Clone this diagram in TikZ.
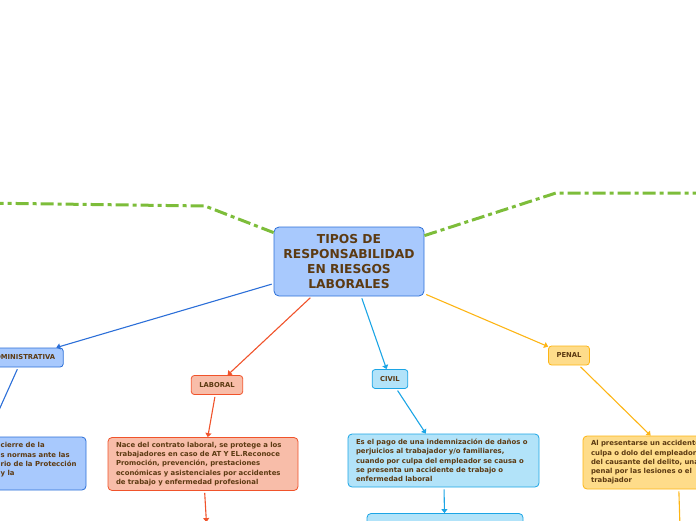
\documentclass[tikz,border=0pt]{standalone}
\usepackage{fontspec}
\setmainfont{DejaVu Sans}
\usepackage{tikz}
\usetikzlibrary{arrows.meta, positioning}

\definecolor{txtbrown}{HTML}{5C3A12}
\definecolor{bluefill}{HTML}{A8C9FD}
\definecolor{blueline}{HTML}{2C6FD8}
\definecolor{salmonfill}{HTML}{F8BDA9}
\definecolor{redline}{HTML}{F0532B}
\definecolor{cyanfill}{HTML}{B2E3F9}
\definecolor{cyanline}{HTML}{1CA5E5}
\definecolor{yellowfill}{HTML}{FEDC8A}
\definecolor{yellowline}{HTML}{FDB515}
\definecolor{greenline}{HTML}{7DBD3A}

\begin{document}
\begin{tikzpicture}[
    x=1pt, y=-1pt,
    every node/.style={text=txtbrown},
    topic/.style={draw, rounded corners=3pt, line width=0.8pt, minimum height=19pt, inner xsep=8pt, inner ysep=0pt, font=\bfseries\fontsize{6.8}{8}\selectfont},
    note/.style={draw, rounded corners=4pt, line width=0.8pt, minimum height=53pt, text width=174pt, inner xsep=8pt, align=left, font=\bfseries\fontsize{6.9}{9.3}\selectfont},
    link/.style={-{Triangle[length=4pt, width=6pt]}, line width=1.1pt, shorten <=2pt},
    branch/.style={greenline, line width=3pt, dash pattern=on 13pt off 4pt on 4pt off 4pt}
]
    \clip (0,0) rectangle (696,520);

    % Central topic
    \node[draw=blueline, fill=bluefill, rounded corners=5pt, line width=0.8pt, minimum width=150pt, minimum height=69pt,
          align=center, font=\bfseries\fontsize{12.3}{14.7}\selectfont] (tipos) at (349,261.5)
        {TIPOS DE\\RESPONSABILIDAD\\EN RIESGOS\\LABORALES};

    % Green branches
    \coordinate (gl1) at (205,206);
    \coordinate (gl0) at (-20,203);
    \coordinate (gr1) at (556,193);
    \coordinate (gr0) at (716,193);
    \draw[branch] ([yshift=-6pt]tipos.north west) -- (gl1) -- (gl0);
    \draw[branch] ([yshift=-9pt]tipos.north east) -- (gr1) -- (gr0);

    % Types
    \node[topic, draw=blueline, fill=bluefill] (admin) at (22.6,357.5) {ADMINISTRATIVA};
    \node[topic, draw=redline, fill=salmonfill] (laboral) at (217,385) {LABORAL};
    \node[topic, draw=cyanline, fill=cyanfill] (civil) at (390,379) {CIVIL};
    \node[topic, draw=yellowline, fill=yellowfill] (penal) at (569,355.5) {PENAL};

    % Descriptions
    \node[note, draw=blueline, fill=bluefill, text width=206pt] (sancion) at (-25,463.5) {};
    \node[anchor=north west, inner sep=0pt, align=left, font=\bfseries\fontsize{6.9}{9.3}\selectfont] (sanciontxt) at (0.5,442.5)
        {cierre de la\\s normas ante las\\rio de la Protección\\y la};
    \node[note, draw=redline, fill=salmonfill] (laboraltxt) at (203,464)
        {Nace del contrato laboral, se protege a los\\trabajadores en caso de AT Y EL.Reconoce\\Promoción, prevención, prestaciones\\económicas y asistenciales por accidentes\\de trabajo y enfermedad profesional};
    \node[note, draw=cyanline, fill=cyanfill, text width=175pt] (civiltxt) at (443.5,460.5)
        {Es el pago de una indemnización de daños o\\perjuicios al trabajador y/o familiares,\\cuando por culpa del empleador se causa o\\se presenta un accidente de trabajo o\\enfermedad laboral};
    \node[note, draw=yellowline, fill=yellowfill] (penaltxt) at (678,462.5)
        {Al presentarse un accidente\\culpa o dolo del empleador\\del causante del delito, una\\penal por las lesiones o el\\trabajador};

    % Next level (below the page)
    \node[note, draw=redline, fill=salmonfill] (laboralnext) at (208,549) {};
    \node[note, draw=cyanline, fill=cyanfill, text width=140pt] (civilnext) at (445,540) {};
    \node[note, draw=yellowline, fill=yellowfill] (penalnext) at (681,560) {};

    % Connections
    \foreach \i/\j/\c in {tipos/admin/blueline, admin/sancion/blueline,
                          tipos/laboral/redline, laboral/laboraltxt/redline, laboraltxt/laboralnext/redline,
                          tipos/civil/cyanline, civil/civiltxt/cyanline, civiltxt/civilnext/cyanline,
                          tipos/penal/yellowline, penal/penaltxt/yellowline, penaltxt/penalnext/yellowline} {
        \draw[link, \c] (\i) -- (\j);
    }
\end{tikzpicture}
\end{document}
